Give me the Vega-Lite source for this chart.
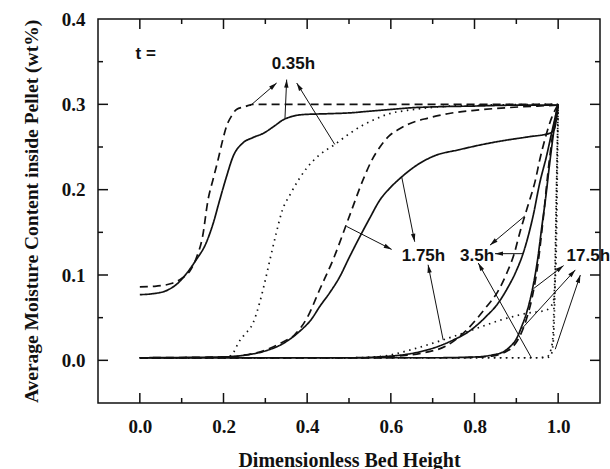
{
  "$schema": "https://vega.github.io/schema/vega-lite/v6.json",
  "width": 502,
  "height": 384,
  "autosize": {"type": "none"},
  "padding": {"left": 98, "top": 19, "right": 10, "bottom": 66},
  "background": "white",
  "config": {
    "view": {"stroke": "#111", "strokeWidth": 1.5},
    "axis": {
      "domain": false,
      "grid": false,
      "labelFont": "Liberation Serif",
      "labelFontWeight": "bold",
      "labelFontSize": 19,
      "labelColor": "#111",
      "titleFont": "Liberation Serif",
      "titleFontWeight": "bold",
      "titleFontSize": 20,
      "titleColor": "#111"
    }
  },
  "datasets": {
    "curves": [
      {"t": "0.35h", "model": "solid", "x": 0, "y": 0.077},
      {"t": "0.35h", "model": "solid", "x": 0.03, "y": 0.078},
      {"t": "0.35h", "model": "solid", "x": 0.065, "y": 0.082},
      {"t": "0.35h", "model": "solid", "x": 0.09, "y": 0.09},
      {"t": "0.35h", "model": "solid", "x": 0.112, "y": 0.102},
      {"t": "0.35h", "model": "solid", "x": 0.135, "y": 0.118},
      {"t": "0.35h", "model": "solid", "x": 0.158, "y": 0.137},
      {"t": "0.35h", "model": "solid", "x": 0.175, "y": 0.16},
      {"t": "0.35h", "model": "solid", "x": 0.191, "y": 0.188},
      {"t": "0.35h", "model": "solid", "x": 0.207, "y": 0.215},
      {"t": "0.35h", "model": "solid", "x": 0.223, "y": 0.239},
      {"t": "0.35h", "model": "solid", "x": 0.247, "y": 0.255},
      {"t": "0.35h", "model": "solid", "x": 0.27, "y": 0.261},
      {"t": "0.35h", "model": "solid", "x": 0.295, "y": 0.266},
      {"t": "0.35h", "model": "solid", "x": 0.32, "y": 0.274},
      {"t": "0.35h", "model": "solid", "x": 0.343, "y": 0.282},
      {"t": "0.35h", "model": "solid", "x": 0.365, "y": 0.286},
      {"t": "0.35h", "model": "solid", "x": 0.39, "y": 0.288},
      {"t": "0.35h", "model": "solid", "x": 0.45, "y": 0.289},
      {"t": "0.35h", "model": "solid", "x": 0.502, "y": 0.29},
      {"t": "0.35h", "model": "solid", "x": 0.55, "y": 0.292},
      {"t": "0.35h", "model": "solid", "x": 0.6, "y": 0.294},
      {"t": "0.35h", "model": "solid", "x": 0.65, "y": 0.296},
      {"t": "0.35h", "model": "solid", "x": 0.7, "y": 0.297},
      {"t": "0.35h", "model": "solid", "x": 0.8, "y": 0.298},
      {"t": "0.35h", "model": "solid", "x": 0.9, "y": 0.299},
      {"t": "0.35h", "model": "solid", "x": 1.0, "y": 0.299},

      {"t": "0.35h", "model": "dashed", "x": 0, "y": 0.086},
      {"t": "0.35h", "model": "dashed", "x": 0.04, "y": 0.087},
      {"t": "0.35h", "model": "dashed", "x": 0.075, "y": 0.09},
      {"t": "0.35h", "model": "dashed", "x": 0.1, "y": 0.096},
      {"t": "0.35h", "model": "dashed", "x": 0.12, "y": 0.105},
      {"t": "0.35h", "model": "dashed", "x": 0.135, "y": 0.12},
      {"t": "0.35h", "model": "dashed", "x": 0.15, "y": 0.145},
      {"t": "0.35h", "model": "dashed", "x": 0.163, "y": 0.188},
      {"t": "0.35h", "model": "dashed", "x": 0.175, "y": 0.212},
      {"t": "0.35h", "model": "dashed", "x": 0.187, "y": 0.235},
      {"t": "0.35h", "model": "dashed", "x": 0.197, "y": 0.256},
      {"t": "0.35h", "model": "dashed", "x": 0.207, "y": 0.274},
      {"t": "0.35h", "model": "dashed", "x": 0.22, "y": 0.287},
      {"t": "0.35h", "model": "dashed", "x": 0.231, "y": 0.294},
      {"t": "0.35h", "model": "dashed", "x": 0.25, "y": 0.297},
      {"t": "0.35h", "model": "dashed", "x": 0.27, "y": 0.3},
      {"t": "0.35h", "model": "dashed", "x": 0.5, "y": 0.3},
      {"t": "0.35h", "model": "dashed", "x": 1.0, "y": 0.3},

      {"t": "0.35h", "model": "dotted", "x": 0, "y": 0.003},
      {"t": "0.35h", "model": "dotted", "x": 0.15, "y": 0.003},
      {"t": "0.35h", "model": "dotted", "x": 0.21, "y": 0.004},
      {"t": "0.35h", "model": "dotted", "x": 0.225, "y": 0.01},
      {"t": "0.35h", "model": "dotted", "x": 0.235, "y": 0.02},
      {"t": "0.35h", "model": "dotted", "x": 0.25, "y": 0.03},
      {"t": "0.35h", "model": "dotted", "x": 0.27, "y": 0.043},
      {"t": "0.35h", "model": "dotted", "x": 0.285, "y": 0.065},
      {"t": "0.35h", "model": "dotted", "x": 0.298, "y": 0.09},
      {"t": "0.35h", "model": "dotted", "x": 0.312, "y": 0.12},
      {"t": "0.35h", "model": "dotted", "x": 0.326, "y": 0.149},
      {"t": "0.35h", "model": "dotted", "x": 0.34, "y": 0.175},
      {"t": "0.35h", "model": "dotted", "x": 0.36, "y": 0.195},
      {"t": "0.35h", "model": "dotted", "x": 0.38, "y": 0.212},
      {"t": "0.35h", "model": "dotted", "x": 0.4, "y": 0.226},
      {"t": "0.35h", "model": "dotted", "x": 0.43, "y": 0.241},
      {"t": "0.35h", "model": "dotted", "x": 0.466, "y": 0.253},
      {"t": "0.35h", "model": "dotted", "x": 0.502, "y": 0.266},
      {"t": "0.35h", "model": "dotted", "x": 0.531, "y": 0.275},
      {"t": "0.35h", "model": "dotted", "x": 0.56, "y": 0.282},
      {"t": "0.35h", "model": "dotted", "x": 0.596, "y": 0.289},
      {"t": "0.35h", "model": "dotted", "x": 0.64, "y": 0.293},
      {"t": "0.35h", "model": "dotted", "x": 0.69, "y": 0.296},
      {"t": "0.35h", "model": "dotted", "x": 0.8, "y": 0.299},
      {"t": "0.35h", "model": "dotted", "x": 1.0, "y": 0.3},

      {"t": "1.75h", "model": "solid", "x": 0, "y": 0.003},
      {"t": "1.75h", "model": "solid", "x": 0.2, "y": 0.004},
      {"t": "1.75h", "model": "solid", "x": 0.25, "y": 0.006},
      {"t": "1.75h", "model": "solid", "x": 0.3, "y": 0.011},
      {"t": "1.75h", "model": "solid", "x": 0.34, "y": 0.019},
      {"t": "1.75h", "model": "solid", "x": 0.382, "y": 0.034},
      {"t": "1.75h", "model": "solid", "x": 0.41, "y": 0.048},
      {"t": "1.75h", "model": "solid", "x": 0.43, "y": 0.063},
      {"t": "1.75h", "model": "solid", "x": 0.455, "y": 0.08},
      {"t": "1.75h", "model": "solid", "x": 0.478, "y": 0.098},
      {"t": "1.75h", "model": "solid", "x": 0.5, "y": 0.12},
      {"t": "1.75h", "model": "solid", "x": 0.526, "y": 0.145},
      {"t": "1.75h", "model": "solid", "x": 0.55, "y": 0.167},
      {"t": "1.75h", "model": "solid", "x": 0.574, "y": 0.188},
      {"t": "1.75h", "model": "solid", "x": 0.6, "y": 0.203},
      {"t": "1.75h", "model": "solid", "x": 0.626, "y": 0.215},
      {"t": "1.75h", "model": "solid", "x": 0.66, "y": 0.228},
      {"t": "1.75h", "model": "solid", "x": 0.701, "y": 0.239},
      {"t": "1.75h", "model": "solid", "x": 0.765, "y": 0.247},
      {"t": "1.75h", "model": "solid", "x": 0.83, "y": 0.254},
      {"t": "1.75h", "model": "solid", "x": 0.876, "y": 0.258},
      {"t": "1.75h", "model": "solid", "x": 0.93, "y": 0.262},
      {"t": "1.75h", "model": "solid", "x": 0.979, "y": 0.266},
      {"t": "1.75h", "model": "solid", "x": 0.99, "y": 0.27},
      {"t": "1.75h", "model": "solid", "x": 1.0, "y": 0.298},

      {"t": "1.75h", "model": "dashed", "x": 0, "y": 0.003},
      {"t": "1.75h", "model": "dashed", "x": 0.2, "y": 0.004},
      {"t": "1.75h", "model": "dashed", "x": 0.25, "y": 0.006},
      {"t": "1.75h", "model": "dashed", "x": 0.3, "y": 0.012},
      {"t": "1.75h", "model": "dashed", "x": 0.34, "y": 0.021},
      {"t": "1.75h", "model": "dashed", "x": 0.37, "y": 0.03},
      {"t": "1.75h", "model": "dashed", "x": 0.4, "y": 0.05},
      {"t": "1.75h", "model": "dashed", "x": 0.43, "y": 0.083},
      {"t": "1.75h", "model": "dashed", "x": 0.462, "y": 0.118},
      {"t": "1.75h", "model": "dashed", "x": 0.498, "y": 0.165},
      {"t": "1.75h", "model": "dashed", "x": 0.534, "y": 0.212},
      {"t": "1.75h", "model": "dashed", "x": 0.555, "y": 0.235},
      {"t": "1.75h", "model": "dashed", "x": 0.574, "y": 0.25},
      {"t": "1.75h", "model": "dashed", "x": 0.596, "y": 0.263},
      {"t": "1.75h", "model": "dashed", "x": 0.62, "y": 0.271},
      {"t": "1.75h", "model": "dashed", "x": 0.643, "y": 0.277},
      {"t": "1.75h", "model": "dashed", "x": 0.69, "y": 0.284},
      {"t": "1.75h", "model": "dashed", "x": 0.736, "y": 0.289},
      {"t": "1.75h", "model": "dashed", "x": 0.8, "y": 0.293},
      {"t": "1.75h", "model": "dashed", "x": 0.876, "y": 0.296},
      {"t": "1.75h", "model": "dashed", "x": 0.95, "y": 0.298},
      {"t": "1.75h", "model": "dashed", "x": 1.0, "y": 0.299},

      {"t": "1.75h", "model": "dotted", "x": 0, "y": 0.003},
      {"t": "1.75h", "model": "dotted", "x": 0.5, "y": 0.003},
      {"t": "1.75h", "model": "dotted", "x": 0.582, "y": 0.005},
      {"t": "1.75h", "model": "dotted", "x": 0.645, "y": 0.012},
      {"t": "1.75h", "model": "dotted", "x": 0.725, "y": 0.024},
      {"t": "1.75h", "model": "dotted", "x": 0.797, "y": 0.036},
      {"t": "1.75h", "model": "dotted", "x": 0.861, "y": 0.047},
      {"t": "1.75h", "model": "dotted", "x": 0.924, "y": 0.055},
      {"t": "1.75h", "model": "dotted", "x": 0.972, "y": 0.059},
      {"t": "1.75h", "model": "dotted", "x": 0.988, "y": 0.068},
      {"t": "1.75h", "model": "dotted", "x": 0.995, "y": 0.12},
      {"t": "1.75h", "model": "dotted", "x": 0.998, "y": 0.22},
      {"t": "1.75h", "model": "dotted", "x": 1.0, "y": 0.3},

      {"t": "3.5h", "model": "solid", "x": 0, "y": 0.003},
      {"t": "3.5h", "model": "solid", "x": 0.5, "y": 0.003},
      {"t": "3.5h", "model": "solid", "x": 0.6, "y": 0.005},
      {"t": "3.5h", "model": "solid", "x": 0.66, "y": 0.009},
      {"t": "3.5h", "model": "solid", "x": 0.717, "y": 0.017},
      {"t": "3.5h", "model": "solid", "x": 0.75, "y": 0.024},
      {"t": "3.5h", "model": "solid", "x": 0.781, "y": 0.032},
      {"t": "3.5h", "model": "solid", "x": 0.829, "y": 0.052},
      {"t": "3.5h", "model": "solid", "x": 0.855, "y": 0.066},
      {"t": "3.5h", "model": "solid", "x": 0.877, "y": 0.083},
      {"t": "3.5h", "model": "solid", "x": 0.9, "y": 0.105},
      {"t": "3.5h", "model": "solid", "x": 0.916, "y": 0.125},
      {"t": "3.5h", "model": "solid", "x": 0.94, "y": 0.169},
      {"t": "3.5h", "model": "solid", "x": 0.956, "y": 0.208},
      {"t": "3.5h", "model": "solid", "x": 0.972, "y": 0.239},
      {"t": "3.5h", "model": "solid", "x": 0.986, "y": 0.27},
      {"t": "3.5h", "model": "solid", "x": 1.0, "y": 0.3},

      {"t": "3.5h", "model": "dashed", "x": 0, "y": 0.003},
      {"t": "3.5h", "model": "dashed", "x": 0.55, "y": 0.003},
      {"t": "3.5h", "model": "dashed", "x": 0.62, "y": 0.005},
      {"t": "3.5h", "model": "dashed", "x": 0.68, "y": 0.009},
      {"t": "3.5h", "model": "dashed", "x": 0.733, "y": 0.017},
      {"t": "3.5h", "model": "dashed", "x": 0.78, "y": 0.035},
      {"t": "3.5h", "model": "dashed", "x": 0.829, "y": 0.063},
      {"t": "3.5h", "model": "dashed", "x": 0.855, "y": 0.08},
      {"t": "3.5h", "model": "dashed", "x": 0.877, "y": 0.102},
      {"t": "3.5h", "model": "dashed", "x": 0.895, "y": 0.125},
      {"t": "3.5h", "model": "dashed", "x": 0.908, "y": 0.149},
      {"t": "3.5h", "model": "dashed", "x": 0.92, "y": 0.169},
      {"t": "3.5h", "model": "dashed", "x": 0.932, "y": 0.188},
      {"t": "3.5h", "model": "dashed", "x": 0.945, "y": 0.21},
      {"t": "3.5h", "model": "dashed", "x": 0.956, "y": 0.235},
      {"t": "3.5h", "model": "dashed", "x": 0.97, "y": 0.262},
      {"t": "3.5h", "model": "dashed", "x": 0.985, "y": 0.285},
      {"t": "3.5h", "model": "dashed", "x": 1.0, "y": 0.3},

      {"t": "3.5h", "model": "dotted", "x": 0, "y": 0.003},
      {"t": "3.5h", "model": "dotted", "x": 0.95, "y": 0.003},
      {"t": "3.5h", "model": "dotted", "x": 0.975, "y": 0.005},
      {"t": "3.5h", "model": "dotted", "x": 0.986, "y": 0.02},
      {"t": "3.5h", "model": "dotted", "x": 0.992, "y": 0.1},
      {"t": "3.5h", "model": "dotted", "x": 0.996, "y": 0.2},
      {"t": "3.5h", "model": "dotted", "x": 1.0, "y": 0.3},

      {"t": "17.5h", "model": "solid", "x": 0, "y": 0.003},
      {"t": "17.5h", "model": "solid", "x": 0.7, "y": 0.003},
      {"t": "17.5h", "model": "solid", "x": 0.805, "y": 0.004},
      {"t": "17.5h", "model": "solid", "x": 0.84, "y": 0.006},
      {"t": "17.5h", "model": "solid", "x": 0.869, "y": 0.01},
      {"t": "17.5h", "model": "solid", "x": 0.885, "y": 0.016},
      {"t": "17.5h", "model": "solid", "x": 0.9, "y": 0.025},
      {"t": "17.5h", "model": "solid", "x": 0.913, "y": 0.04},
      {"t": "17.5h", "model": "solid", "x": 0.924, "y": 0.055},
      {"t": "17.5h", "model": "solid", "x": 0.94, "y": 0.087},
      {"t": "17.5h", "model": "solid", "x": 0.952, "y": 0.122},
      {"t": "17.5h", "model": "solid", "x": 0.96, "y": 0.153},
      {"t": "17.5h", "model": "solid", "x": 0.97, "y": 0.19},
      {"t": "17.5h", "model": "solid", "x": 0.98, "y": 0.232},
      {"t": "17.5h", "model": "solid", "x": 0.99, "y": 0.27},
      {"t": "17.5h", "model": "solid", "x": 1.0, "y": 0.3},

      {"t": "17.5h", "model": "dashed", "x": 0, "y": 0.003},
      {"t": "17.5h", "model": "dashed", "x": 0.75, "y": 0.003},
      {"t": "17.5h", "model": "dashed", "x": 0.841, "y": 0.005},
      {"t": "17.5h", "model": "dashed", "x": 0.87, "y": 0.009},
      {"t": "17.5h", "model": "dashed", "x": 0.885, "y": 0.013},
      {"t": "17.5h", "model": "dashed", "x": 0.908, "y": 0.028},
      {"t": "17.5h", "model": "dashed", "x": 0.924, "y": 0.048},
      {"t": "17.5h", "model": "dashed", "x": 0.94, "y": 0.079},
      {"t": "17.5h", "model": "dashed", "x": 0.952, "y": 0.114},
      {"t": "17.5h", "model": "dashed", "x": 0.964, "y": 0.165},
      {"t": "17.5h", "model": "dashed", "x": 0.979, "y": 0.235},
      {"t": "17.5h", "model": "dashed", "x": 0.99, "y": 0.275},
      {"t": "17.5h", "model": "dashed", "x": 1.0, "y": 0.3},

      {"t": "17.5h", "model": "dotted", "x": 0, "y": 0.003},
      {"t": "17.5h", "model": "dotted", "x": 0.97, "y": 0.003},
      {"t": "17.5h", "model": "dotted", "x": 0.982, "y": 0.005},
      {"t": "17.5h", "model": "dotted", "x": 0.988, "y": 0.02},
      {"t": "17.5h", "model": "dotted", "x": 0.993, "y": 0.1},
      {"t": "17.5h", "model": "dotted", "x": 0.996, "y": 0.2},
      {"t": "17.5h", "model": "dotted", "x": 1.0, "y": 0.3}
    ],
    "labels": [
      {"label": "t =", "x": 0.014, "y": 0.359},
      {"label": "0.35h", "x": 0.367, "y": 0.347},
      {"label": "1.75h", "x": 0.678, "y": 0.122},
      {"label": "3.5h", "x": 0.806, "y": 0.122},
      {"label": "17.5h", "x": 1.072, "y": 0.122}
    ],
    "arrows": [
      {"x": 0.263, "y": 0.298, "x2": 0.327, "y2": 0.325},
      {"x": 0.347, "y": 0.284, "x2": 0.351, "y2": 0.329},
      {"x": 0.466, "y": 0.253, "x2": 0.375, "y2": 0.325},
      {"x": 0.626, "y": 0.215, "x2": 0.657, "y2": 0.139},
      {"x": 0.494, "y": 0.157, "x2": 0.602, "y2": 0.13},
      {"x": 0.725, "y": 0.024, "x2": 0.689, "y2": 0.112},
      {"x": 0.92, "y": 0.169, "x2": 0.837, "y2": 0.135},
      {"x": 0.916, "y": 0.125, "x2": 0.849, "y2": 0.125},
      {"x": 0.936, "y": 0.003, "x2": 0.809, "y2": 0.114},
      {"x": 0.941, "y": 0.084, "x2": 1.013, "y2": 0.111},
      {"x": 0.913, "y": 0.037, "x2": 1.041, "y2": 0.106},
      {"x": 0.993, "y": 0.013, "x2": 1.053, "y2": 0.1}
    ],
    "ticks": [
      {"side": "bottom", "v": 0, "kind": "major"}, {"side": "bottom", "v": 0.1, "kind": "minor"},
      {"side": "bottom", "v": 0.2, "kind": "major"}, {"side": "bottom", "v": 0.3, "kind": "minor"},
      {"side": "bottom", "v": 0.4, "kind": "major"}, {"side": "bottom", "v": 0.5, "kind": "minor"},
      {"side": "bottom", "v": 0.6, "kind": "major"}, {"side": "bottom", "v": 0.7, "kind": "minor"},
      {"side": "bottom", "v": 0.8, "kind": "major"}, {"side": "bottom", "v": 0.9, "kind": "minor"},
      {"side": "bottom", "v": 1.0, "kind": "major"},
      {"side": "top", "v": 0, "kind": "major"}, {"side": "top", "v": 0.1, "kind": "minor"},
      {"side": "top", "v": 0.2, "kind": "major"}, {"side": "top", "v": 0.3, "kind": "minor"},
      {"side": "top", "v": 0.4, "kind": "major"}, {"side": "top", "v": 0.5, "kind": "minor"},
      {"side": "top", "v": 0.6, "kind": "major"}, {"side": "top", "v": 0.7, "kind": "minor"},
      {"side": "top", "v": 0.8, "kind": "major"}, {"side": "top", "v": 0.9, "kind": "minor"},
      {"side": "top", "v": 1.0, "kind": "major"},
      {"side": "left", "v": 0, "kind": "major"}, {"side": "left", "v": 0.05, "kind": "minor"},
      {"side": "left", "v": 0.1, "kind": "major"}, {"side": "left", "v": 0.15, "kind": "minor"},
      {"side": "left", "v": 0.2, "kind": "major"}, {"side": "left", "v": 0.25, "kind": "minor"},
      {"side": "left", "v": 0.3, "kind": "major"}, {"side": "left", "v": 0.35, "kind": "minor"},
      {"side": "right", "v": 0, "kind": "major"}, {"side": "right", "v": 0.05, "kind": "minor"},
      {"side": "right", "v": 0.1, "kind": "major"}, {"side": "right", "v": 0.15, "kind": "minor"},
      {"side": "right", "v": 0.2, "kind": "major"}, {"side": "right", "v": 0.25, "kind": "minor"},
      {"side": "right", "v": 0.3, "kind": "major"}, {"side": "right", "v": 0.35, "kind": "minor"}
    ]
  },
  "layer": [
    {
      "data": {"name": "curves"},
      "mark": {"type": "line", "interpolate": "monotone", "strokeWidth": 1.7, "color": "#111", "clip": true},
      "encoding": {
        "x": {
          "field": "x", "type": "quantitative",
          "scale": {"domain": [-0.1, 1.1], "nice": false, "zero": false},
          "axis": {
            "orient": "bottom",
            "title": "Dimensionless Bed Height",
            "values": [0, 0.2, 0.4, 0.6, 0.8, 1.0],
            "format": ".1f",
            "ticks": false,
            "labelPadding": 14,
            "titlePadding": 14
          }
        },
        "y": {
          "field": "y", "type": "quantitative",
          "scale": {"domain": [-0.05, 0.4], "nice": false, "zero": false},
          "axis": {
            "orient": "left",
            "title": "Average Moisture Content inside Pellet (wt%)",
            "titleFontSize": 19.5,
            "values": [0, 0.1, 0.2, 0.3, 0.4],
            "format": ".1f",
            "ticks": false,
            "labelPadding": 13,
            "titlePadding": 20
          }
        },
        "strokeDash": {
          "field": "model", "type": "nominal",
          "scale": {"domain": ["solid", "dashed", "dotted"], "range": [[1, 0], [8, 5], [1.5, 4.5]]},
          "legend": null
        },
        "detail": {"field": "t"}
      }
    },
    {
      "data": {"name": "ticks"},
      "transform": [
        {"calculate": "datum.kind == 'major' ? 10 : 5", "as": "len"},
        {"calculate": "datum.side == 'bottom' || datum.side == 'top' ? datum.v : (datum.side == 'left' ? -0.1 : 1.1)", "as": "xa"},
        {"calculate": "datum.side == 'left' ? datum.xa + datum.len/418.3 : (datum.side == 'right' ? datum.xa - datum.len/418.3 : datum.xa)", "as": "xb"},
        {"calculate": "datum.side == 'left' || datum.side == 'right' ? datum.v : (datum.side == 'bottom' ? -0.05 : 0.4)", "as": "ya"},
        {"calculate": "datum.side == 'bottom' ? datum.ya + datum.len/853.3 : (datum.side == 'top' ? datum.ya - datum.len/853.3 : datum.ya)", "as": "yb"}
      ],
      "mark": {"type": "rule", "color": "#111", "strokeWidth": 1.5},
      "encoding": {
        "x": {"field": "xa", "type": "quantitative"},
        "y": {"field": "ya", "type": "quantitative"},
        "x2": {"field": "xb"},
        "y2": {"field": "yb"}
      }
    },
    {
      "data": {"name": "arrows"},
      "mark": {"type": "rule", "color": "#111", "strokeWidth": 1},
      "encoding": {
        "x": {"field": "x", "type": "quantitative"},
        "y": {"field": "y", "type": "quantitative"},
        "x2": {"field": "x2"},
        "y2": {"field": "y2"}
      }
    },
    {
      "data": {"name": "arrows"},
      "transform": [
        {"calculate": "atan2((datum.x2-datum.x)*418.3, (datum.y2-datum.y)*853.3)*180/PI", "as": "ang"}
      ],
      "mark": {"type": "point", "shape": "M0,0L-0.55,2L0.55,2Z", "filled": true, "color": "#111", "opacity": 1, "size": 64, "strokeWidth": 0},
      "encoding": {
        "x": {"field": "x2", "type": "quantitative"},
        "y": {"field": "y2", "type": "quantitative"},
        "angle": {"field": "ang", "type": "quantitative", "scale": null}
      }
    },
    {
      "data": {"name": "labels"},
      "mark": {"type": "text", "font": "Liberation Sans", "fontWeight": "bold", "fontSize": 17, "color": "#111", "align": "center", "baseline": "middle"},
      "encoding": {
        "x": {"field": "x", "type": "quantitative"},
        "y": {"field": "y", "type": "quantitative"},
        "text": {"field": "label"}
      }
    }
  ]
}
